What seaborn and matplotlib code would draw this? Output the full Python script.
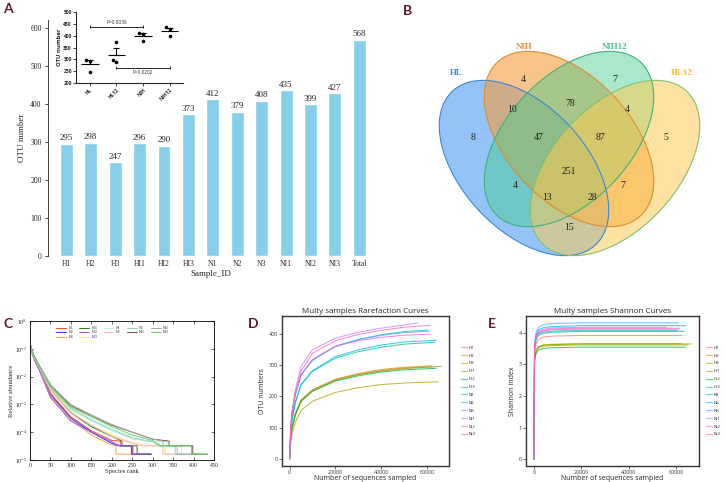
import matplotlib
matplotlib.use("Agg")
import matplotlib.pyplot as plt
from matplotlib.patches import Ellipse
import numpy as np
import pandas as pd
import seaborn as sns

# ---------------- data ----------------
samples = ["H1", "H2", "H3", "HI1", "HI2", "HI3", "N1", "N2", "N3", "NI1", "NI2", "NI3"]
otu_counts = [295, 298, 247, 296, 290, 373, 412, 379, 408, 435, 399, 427]
total_otu = 568

groups = ["HL", "HL12", "NIH", "NIH12"]
group_of_sample = ["HL"] * 3 + ["HL12"] * 3 + ["NIH"] * 3 + ["NIH12"] * 3
p_labels = ["P=0.0036", "P=0.0202"]
p_pairs = [("HL", "NIH"), ("HL12", "NIH12")]
p_heights = [437, 265]

# venn: region code order = HL, NIH, NIH12, HL12
venn_sets = ["HL", "NIH", "NIH12", "HL12"]
venn_counts = {
    "1000": 8, "0100": 4, "0010": 7, "0001": 5,
    "1100": 10, "0110": 78, "0011": 4,
    "1110": 47, "0111": 87, "1111": 251,
    "1010": 4, "0101": 7, "1011": 13, "1101": 28, "1001": 15,
}

# rank abundance (species rank, log10 relative abundance)
rank_x = {
    "H1": [1, 5, 10, 25, 50, 100, 150, 200, 222, 222, 250, 250, 295],
    "H2": [1, 5, 10, 25, 50, 100, 150, 200, 215, 248, 248, 298],
    "H3": [1, 5, 10, 25, 50, 100, 150, 190, 210, 210, 247],
    "HI1": [1, 5, 10, 25, 50, 100, 150, 200, 225, 225, 262, 262, 296],
    "HI2": [1, 5, 10, 25, 50, 100, 150, 200, 220, 252, 252, 290],
    "HI3": [1, 5, 10, 25, 50, 100, 150, 200, 250, 285, 330, 330, 373],
    "N1": [1, 5, 10, 25, 50, 100, 150, 200, 250, 300, 335, 335, 370, 370, 412],
    "N2": [1, 5, 10, 25, 50, 100, 150, 200, 250, 275, 325, 325, 379],
    "N3": [1, 5, 10, 25, 50, 100, 150, 200, 250, 300, 315, 355, 355, 408],
    "NI1": [1, 5, 10, 25, 50, 100, 150, 200, 250, 300, 340, 340, 398, 398, 435],
    "NI2": [1, 5, 10, 25, 50, 100, 150, 200, 250, 300, 325, 325, 360, 360, 399],
    "NI3": [1, 5, 10, 25, 50, 100, 150, 200, 250, 300, 320, 395, 395, 427],
}
rank_log = {
    "H1": [-0.88, -1.12, -1.32, -1.8, -2.6, -3.45, -3.95, -4.3, -4.32, -4.49, -4.49, -4.79, -4.79],
    "H2": [-0.9, -1.15, -1.35, -1.82, -2.65, -3.5, -4.0, -4.4, -4.49, -4.49, -4.79, -4.79],
    "H3": [-0.86, -1.12, -1.33, -1.8, -2.7, -3.55, -4.1, -4.4, -4.49, -4.79, -4.79],
    "HI1": [-0.85, -1.1, -1.28, -1.72, -2.45, -3.3, -3.8, -4.15, -4.32, -4.49, -4.49, -4.79, -4.79],
    "HI2": [-0.92, -1.18, -1.38, -1.85, -2.75, -3.6, -4.0, -4.35, -4.49, -4.49, -4.79, -4.79],
    "HI3": [-0.87, -1.12, -1.3, -1.72, -2.45, -3.25, -3.75, -4.1, -4.38, -4.49, -4.49, -4.79, -4.79],
    "N1": [-0.9, -1.12, -1.3, -1.7, -2.35, -3.2, -3.6, -3.95, -4.25, -4.32, -4.32, -4.49, -4.49, -4.79, -4.79],
    "N2": [-0.88, -1.13, -1.32, -1.76, -2.5, -3.3, -3.75, -4.15, -4.4, -4.49, -4.49, -4.79, -4.79],
    "N3": [-0.86, -1.1, -1.28, -1.7, -2.4, -3.15, -3.55, -3.9, -4.2, -4.35, -4.49, -4.49, -4.79, -4.79],
    "NI1": [-0.84, -1.08, -1.25, -1.66, -2.3, -3.05, -3.4, -3.75, -4.0, -4.25, -4.32, -4.49, -4.49, -4.79, -4.79],
    "NI2": [-0.86, -1.1, -1.26, -1.66, -2.3, -3.0, -3.38, -3.72, -4.0, -4.25, -4.32, -4.49, -4.49, -4.79, -4.79],
    "NI3": [-0.85, -1.1, -1.27, -1.68, -2.35, -3.1, -3.45, -3.8, -4.1, -4.3, -4.49, -4.49, -4.79, -4.79],
}
rank_colors = ["#ff3b3b", "#3030ff", "#ffa347", "#1f7a1f", "#9b59d9", "#ffee55",
               "#b3eeee", "#ffaacc", "#86d4b4", "#6e5540", "#a9a9a9", "#5fd85f"]

# rarefaction (sequences sampled -> OTUs) and shannon
seq_depth = [62500, 62000, 65000, 66300, 64000, 63500, 60500, 64000, 61000, 56000, 61500, 61500]
rare_x = [0, 500, 1000, 2500, 5000, 10000, 20000, 30000, 40000, 50000]
rare_otu = {
    "H1": [0, 70, 100, 145, 189, 221, 254, 271, 283, 291],
    "H2": [0, 68, 98, 143, 188, 221, 255, 273, 286, 293],
    "H3": [0, 56, 80, 118, 155, 185, 213, 228, 238, 243],
    "HI1": [0, 66, 95, 140, 184, 217, 251, 269, 281, 289],
    "HI2": [0, 68, 97, 142, 186, 217, 249, 266, 278, 285],
    "HI3": [0, 85, 125, 182, 237, 280, 322, 343, 357, 367],
    "N1": [0, 95, 140, 205, 268, 315, 360, 382, 397, 407],
    "N2": [0, 84, 122, 180, 238, 283, 327, 349, 364, 374],
    "N3": [0, 97, 142, 207, 270, 317, 360, 381, 395, 404],
    "NI1": [0, 102, 150, 220, 296, 349, 386, 405, 418, 428],
    "NI2": [0, 99, 145, 208, 268, 318, 360, 378, 389, 395],
    "NI3": [0, 99, 145, 212, 282, 338, 378, 398, 411, 421],
}
shannon_x = [0, 300, 1000, 2000, 4000, 8000, 20000]
shannon = {
    "H1": [0, 3.40, 3.68, 3.80, 3.87, 3.90, 3.92],
    "H2": [0, 3.20, 3.45, 3.56, 3.62, 3.64, 3.66],
    "H3": [0, 3.18, 3.42, 3.53, 3.58, 3.60, 3.62],
    "HI1": [0, 3.22, 3.46, 3.56, 3.61, 3.63, 3.65],
    "HI2": [0, 3.12, 3.36, 3.46, 3.51, 3.53, 3.55],
    "HI3": [0, 3.50, 3.80, 3.93, 3.99, 4.02, 4.05],
    "N1": [0, 3.55, 3.84, 3.97, 4.03, 4.06, 4.08],
    "N2": [0, 3.65, 3.95, 4.09, 4.17, 4.20, 4.23],
    "N3": [0, 3.72, 4.04, 4.18, 4.26, 4.30, 4.32],
    "NI1": [0, 3.62, 3.92, 4.05, 4.12, 4.16, 4.18],
    "NI2": [0, 3.60, 3.90, 4.02, 4.09, 4.13, 4.15],
    "NI3": [0, 3.58, 3.88, 4.00, 4.07, 4.10, 4.12],
}
gg_colors = ["#F8766D", "#DE8C00", "#B79F00", "#7CAE00", "#00BA38", "#00C08B",
             "#00BFC4", "#00B4F0", "#619CFF", "#C77CFF", "#F564E3", "#FF64B0"]

# ---------------- style ----------------
sns.set_style("white")
plt.rcParams["mathtext.fontset"] = "stix"
SERIF = ["Liberation Serif", "DejaVu Serif"]
SANS = ["Open Sans", "DejaVu Sans"]
LABEL_COL = "#5b1a2a"

W, H = 725, 482
fig = plt.figure(figsize=(W / 100, H / 100), dpi=100)


def px_axes(x0, y0, x1, y1):
    return fig.add_axes([x0 / W, 1 - y1 / H, (x1 - x0) / W, (y1 - y0) / H])


# ---------------- A: OTU bars ----------------
otu_df = pd.DataFrame({"Sample_ID": samples + ["Total"], "OTU": otu_counts + [total_otu]})
ax_a = px_axes(48, 20, 374, 256)
sns.barplot(data=otu_df, x="Sample_ID", y="OTU", color="skyblue", saturation=1,
            width=0.53, ax=ax_a)
ax_a.bar_label(ax_a.containers[0], fontsize=6.5, family=SERIF, padding=1)
ax_a.set_ylim(0, 620)
ax_a.set_xlim(-0.75, 12.6)
ax_a.set_yticks(range(0, 601, 100))
sns.despine(ax=ax_a, bottom=True)
ax_a.spines["left"].set_linewidth(0.6)
ax_a.tick_params(axis="x", length=0, labelsize=5.5, pad=3)
ax_a.tick_params(axis="y", left=True, length=2.5, width=0.6, labelsize=5.5, pad=2)
for lab in ax_a.get_xticklabels() + ax_a.get_yticklabels():
    lab.set_family(SERIF)
ax_a.set_xlabel("Sample_ID", family=SERIF, fontsize=6.5, labelpad=1)
ax_a.set_ylabel("OTU number", family=SERIF, fontsize=6.5, labelpad=3)

# inset: group comparison
grp_df = pd.DataFrame({"group": group_of_sample, "OTU": otu_counts})
ax_in = px_axes(76, 11.7, 183, 83.3)
ax_in.set_facecolor("none")
sns.swarmplot(data=grp_df, x="group", y="OTU", order=groups, color="black", size=2.6, ax=ax_in)
stats = grp_df.groupby("group", sort=False)["OTU"].agg(["mean", "sem"]).reindex(groups)
xs = np.arange(len(groups))
ax_in.hlines(stats["mean"], xs - 0.33, xs + 0.33, color="black", lw=0.8)
ax_in.errorbar(xs, stats["mean"], yerr=[np.zeros(len(xs)), stats["sem"]], fmt="none",
               ecolor="black", elinewidth=0.8, capsize=2.5, capthick=0.8)
for (g0, g1), y, txt in zip(p_pairs, p_heights, p_labels):
    x0, x1 = groups.index(g0), groups.index(g1)
    ax_in.hlines(y, x0, x1, color="black", lw=0.6)
    ax_in.vlines([x0, x1], y - 7, y + 7, color="black", lw=0.6)
    above = y > 350
    ax_in.text((x0 + x1) / 2, y + 9 if above else y - 9, txt, ha="center",
               va="bottom" if above else "top", fontsize=3.4, family=SANS)
ax_in.set_xlim(-0.52, 3.5)
ax_in.set_ylim(200, 500)
ax_in.set_yticks(range(200, 501, 50))
sns.despine(ax=ax_in)
for s in ("left", "bottom"):
    ax_in.spines[s].set_linewidth(0.8)
ax_in.tick_params(left=True, bottom=True, length=2, width=0.6, labelsize=3.6, pad=1)
ax_in.set_xticks(xs)
ax_in.set_xticklabels(groups, rotation=45, ha="right", rotation_mode="anchor",
                      fontweight="bold", family=SANS)
for lab in ax_in.get_yticklabels():
    lab.set_fontweight("bold")
    lab.set_family(SANS)
ax_in.set_xlabel("")
ax_in.set_ylabel("OTU number", fontsize=4.2, fontweight="bold", family=SANS, labelpad=1)

# ---------------- B: Venn ----------------
ax_b = px_axes(380, 0, 725, 260)
ax_b.set_xlim(380, 725)
ax_b.set_ylim(260, 0)
ax_b.axis("off")
ell_layout = {
    "HL": dict(xy=(524, 168), angle=47, fc="#3a92f2", ec="#3a86d8", alpha=0.55),
    "NIH": dict(xy=(569, 139), angle=47, fc="#f59d3d", ec="#e08a30", alpha=0.6),
    "NIH12": dict(xy=(569, 139), angle=-47, fc="#44cc8c", ec="#40b07a", alpha=0.45),
    "HL12": dict(xy=(615, 168), angle=-47, fc="#fdcb55", ec="#80c070", alpha=0.55),
}
for name in venn_sets:
    e = ell_layout[name]
    ax_b.add_patch(Ellipse(e["xy"], 210, 124, angle=e["angle"], facecolor=e["fc"],
                           alpha=e["alpha"], edgecolor="none"))
for name in venn_sets:
    e = ell_layout[name]
    ax_b.add_patch(Ellipse(e["xy"], 210, 124, angle=e["angle"], facecolor="none",
                           edgecolor=e["ec"], lw=0.8))
region_pos = {
    "1000": (473, 137), "0100": (523, 80), "0010": (615, 80), "0001": (666, 137),
    "1100": (512, 110), "0110": (570, 104), "0011": (627, 110),
    "1110": (539, 137), "0111": (600, 137), "1111": (569, 171),
    "1010": (515, 185), "0101": (623, 185), "1011": (547, 197), "1101": (592, 197),
    "1001": (569, 228),
}
for code, n in venn_counts.items():
    ax_b.text(*region_pos[code], str(n), ha="center", va="center", fontsize=7,
              family=SERIF, color="#222222")
set_label_pos = {"HL": (456, 73), "NIH": (524, 47), "NIH12": (615, 47), "HL12": (682, 73)}
set_label_col = {"HL": "#3b8fe0", "NIH": "#f08c30", "NIH12": "#45c08e", "HL12": "#f6c040"}
for name in venn_sets:
    ax_b.text(*set_label_pos[name], name, ha="center", va="center", fontsize=6.5,
              family=SERIF, color=set_label_col[name], fontweight="bold")

# ---------------- C: rank abundance ----------------
rank_df = pd.concat([
    pd.DataFrame({"sample": s, "rank": rank_x[s], "abund": np.power(10.0, rank_log[s])})
    for s in samples
], ignore_index=True)
ax_c = px_axes(30, 321, 214, 460)
sns.lineplot(data=rank_df, x="rank", y="abund", hue="sample", hue_order=samples,
             palette=rank_colors, sort=False, estimator=None, lw=0.7, ax=ax_c)
ax_c.set_yscale("log")
ax_c.set_xlim(0, 450)
ax_c.set_ylim(1e-5, 1)
ax_c.set_xticks(range(0, 451, 50))
ax_c.set_yticks([1e-5, 1e-4, 1e-3, 1e-2, 1e-1, 1])
ax_c.minorticks_off()
for s in ax_c.spines.values():
    s.set_linewidth(0.6)
    s.set_color("black")
ax_c.tick_params(direction="in", length=2, width=0.5, labelsize=4.2, pad=2,
                 top=True, right=True, left=True, bottom=True)
for lab in ax_c.get_xticklabels() + ax_c.get_yticklabels():
    lab.set_family(SERIF)
ax_c.set_xlabel("Species rank", family=SERIF, fontsize=4.8, labelpad=1)
ax_c.set_ylabel("Relative abundance", family=SERIF, fontsize=4.8, labelpad=1)
ax_c.legend(ncol=5, loc="upper center", bbox_to_anchor=(0.45, 0.99), frameon=False,
            prop={"family": SERIF, "size": 2.8}, handlelength=2.5, columnspacing=1.6,
            labelspacing=0.15, handletextpad=0.6)


# ---------------- D / E: rarefaction + shannon ----------------
def curve_frame(xgrid, table, ykey, end_values):
    parts = []
    for s, depth, end in zip(samples, seq_depth, end_values):
        parts.append(pd.DataFrame({"sample": s, "x": xgrid + [depth],
                                   ykey: table[s] + [end]}))
    return pd.concat(parts, ignore_index=True)


def gg_panel(ax, df, ykey, title, ylabel, yticks, leg_x):
    sns.lineplot(data=df, x="x", y=ykey, hue="sample", hue_order=samples, palette=gg_colors,
                 sort=False, estimator=None, lw=0.75, alpha=0.75, ax=ax)
    xmax = max(seq_depth)
    ymax = df[ykey].max()
    ax.set_xlim(-0.05 * xmax, 1.05 * xmax)
    ax.set_ylim(-0.05 * ymax, 1.05 * ymax)
    ax.set_xticks([0, 20000, 40000, 60000])
    ax.set_yticks(yticks)
    for s in ax.spines.values():
        s.set_linewidth(1.0)
        s.set_color("#333333")
    ax.tick_params(left=True, bottom=True, length=2, width=0.5, colors="#333333",
                   labelsize=3.9, pad=1.2)
    for lab in ax.get_xticklabels() + ax.get_yticklabels():
        lab.set_family(SANS)
    ax.set_title(title, family=SANS, fontsize=5.8, pad=2.5)
    ax.set_xlabel("Number of sequences sampled", family=SANS, fontsize=5.0, labelpad=0)
    ax.set_ylabel(ylabel, family=SANS, fontsize=5.0, labelpad=2)
    leg = ax.legend(loc="center left", bbox_to_anchor=(leg_x, 0.5), frameon=False,
                    prop={"family": SANS, "size": 3.2}, handlelength=1.3,
                    labelspacing=0.85, handletextpad=0.45, borderaxespad=0)
    for ln in leg.get_lines():
        ln.set_alpha(0.6)
        ln.set_linewidth(0.9)


rare_df = curve_frame(rare_x, rare_otu, "otu", otu_counts)
ax_d = px_axes(282, 316, 449, 466)
gg_panel(ax_d, rare_df, "otu", "Multy samples Rarefaction Curves", "OTU numbers",
         [0, 100, 200, 300, 400], 1.06)

shannon_end = [shannon[s][-1] for s in samples]
shan_df = curve_frame(shannon_x, shannon, "shannon", shannon_end)
ax_e = px_axes(526, 316, 699, 466)
gg_panel(ax_e, shan_df, "shannon", "Multy samples Shannon Curves", "Shannon index",
         [0, 1, 2, 3, 4], 1.03)

# ---------------- panel letters ----------------
for letter, (x, y) in {"A": (3, 3), "B": (403, 5), "C": (4, 318), "D": (248, 318),
                       "E": (488, 318)}.items():
    fig.text(x / W, 1 - y / H, letter, ha="left", va="top", fontsize=10,
             fontweight="bold", color=LABEL_COL, family=["Lato", "DejaVu Sans"])

fig.savefig("out.png", dpi=100)
